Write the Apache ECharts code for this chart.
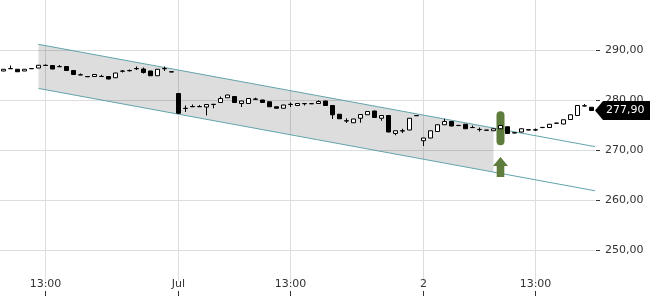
<!DOCTYPE html>
<html><head><meta charset="utf-8">
<script src="https://cdn.jsdelivr.net/npm/echarts@6/dist/echarts.min.js"></script>
<style>html,body{margin:0;padding:0;background:#fff}#c{width:650px;height:300px}</style>
</head><body><div id="c"></div>
<script>
// ---- data ----
const sessionTimes = ["09:00","09:15","09:30","09:45","10:00","10:15","10:30","10:45","11:00","11:15","11:30","11:45","12:00","12:15","12:30","12:45","13:00","13:15","13:30","13:45","14:00","14:15","14:30","14:45","15:00","15:15","15:30","15:45","16:00","16:15","16:30","16:45","17:00","17:15","17:30"];
const categories = [].concat(
  sessionTimes.slice(10).map(t => "30.06. " + t),
  sessionTimes.map(t => "01.07. " + t),
  sessionTimes.slice(0, 25).map(t => "02.07. " + t)
);
const openVals  = [285.8,286.25,286.15,285.8,286.3,286.4,286.95,286.9,286.65,286.7,285.9,285.0,284.7,284.7,284.7,284.7,284.45,285.75,285.9,286.3,286.2,285.8,284.85,286.3,285.65,
  281.3,278.3,278.65,278.7,278.6,279.15,279.5,280.45,280.7,279.3,279.3,280.2,280.0,279.65,278.65,278.35,279.15,278.9,279.3,279.27,279.3,279.8,278.9,277.15,275.85,275.45,276.35,277.05,277.8,276.35,276.9,273.3,273.85,274.0,276.9,
  271.85,272.4,273.7,275.05,275.7,274.92,275.15,274.5,274.12,273.98,273.85,274.25,274.65,273.45,273.6,274.05,274.05,274.52,274.5,275.38,275.2,276.1,276.9,278.85,278.55];
const closeVals = [286.15,286.3,285.65,286.15,286.25,286.95,286.9,286.2,286.7,285.9,285.1,285.05,284.65,285.1,284.72,284.2,285.4,285.8,285.85,286.25,285.5,284.85,286.15,286.25,285.6,
  277.35,278.35,278.7,278.65,279.1,279.1,280.3,281.0,279.5,279.8,280.3,280.15,279.5,278.65,278.35,279.0,279.1,279.3,279.25,279.25,279.7,278.9,277.05,276.25,275.8,276.2,277.1,277.7,276.5,276.9,273.6,273.85,273.8,276.35,276.85,
  272.4,273.85,275.05,275.7,274.8,274.88,274.25,274.48,274.08,273.95,274.25,274.9,273.3,273.4,274.25,274.0,274.0,274.48,275.15,275.35,276.05,277.05,278.9,278.8,277.9];
const lowVals   = [285.75,286.25,285.6,285.8,286.2,286.4,286.85,286.15,286.65,285.85,285.05,285.0,284.65,284.7,284.7,284.15,284.4,285.5,285.7,286.0,285.3,284.8,284.8,285.8,285.6,
  277.2,277.6,278.65,278.65,276.9,278.35,279.5,280.45,279.45,278.6,279.25,280.1,279.45,278.6,278.3,278.3,278.6,278.85,278.9,279.2,279.25,278.85,276.2,276.2,275.4,275.4,275.45,277.0,276.45,275.85,273.55,272.95,273.4,273.95,276.85,
  270.8,272.35,273.65,275.0,274.75,274.85,274.2,274.45,273.7,273.95,273.8,274.2,273.25,273.4,273.55,273.95,273.8,274.45,274.45,275.3,275.15,276.05,276.85,278.7,277.85];
const highVals  = [286.2,286.9,286.2,286.2,286.35,287.0,287.1,287.0,287.0,286.75,285.95,285.3,284.75,285.1,285.05,284.75,285.45,286.0,286.1,286.7,286.5,285.85,286.2,286.7,285.7,
  281.4,278.9,279.1,279.0,279.15,279.2,280.7,281.05,280.75,279.85,280.35,280.45,280.05,279.7,278.7,279.05,279.5,279.35,279.35,279.3,279.95,279.85,278.95,277.2,276.35,276.25,277.15,277.75,277.85,276.95,276.95,273.9,274.25,276.4,276.9,
  272.45,273.9,275.1,276.25,275.75,274.95,275.2,274.9,274.5,274.0,274.3,274.95,274.7,273.5,274.3,274.1,274.3,274.55,275.2,275.45,276.1,277.1,278.95,279.2,278.6];
// trend channel (x in candle index units)
const channelX     = [5, 84.5];
const channelUpper = [291.13, 270.67];
const channelLower = [282.31, 261.85];
const fillX        = [5, 70];
const fillUpper    = [291.13, 274.41];
const fillLower    = [282.31, 265.59];
// signal markers
const signalCat        = ["02.07. 11:45"];
const signalBarValue   = [274.37];
const signalArrowValue = [266.62];
// axis ticks
const tickCats = ["30.06. 13:00","01.07. 09:00","01.07. 13:00","02.07. 09:00","02.07. 13:00"];
const tickText = ["13:00","Jul","13:00","2","13:00"];
const yTicks = [250, 260, 270, 280, 290];

// ---- chart ----
const FONT = 'DejaVu Sans';
const fmt = v => v.toFixed(2).replace('.', ',');
const chart = echarts.init(document.getElementById('c'), null, {renderer: 'canvas'});
const candleData = categories.map((c, i) => [openVals[i], closeVals[i], lowVals[i], highVals[i]]);
const tickSet = new Set(tickCats);
const GREEN = '#5e7c3b';
const GRID = '#dddddd';
const option = {
  animation: false,
  grid: {left: 0, right: 55, top: -2, height: 302},
  xAxis: [
    {type: 'category', data: categories, boundaryGap: true, offset: -4, z: 10,
     axisLine: {show: false, onZero: false},
     axisTick: {show: true, inside: true, length: 5, alignWithLabel: true,
       interval: (i, v) => tickSet.has(v), lineStyle: {color: '#333'}},
     axisLabel: {inside: true, margin: 6, interval: (i, v) => tickSet.has(v),
       formatter: v => tickText[tickCats.indexOf(v)], color: '#333', fontFamily: FONT, fontSize: 11},
     splitLine: {show: false}},
    {type: 'value', min: -0.5, max: categories.length - 0.5, show: false,
     axisLine: {onZero: false}}
  ],
  yAxis: {type: 'value', position: 'right', min: 240, max: 300, interval: 10, offset: 1,
    axisLine: {show: false, onZero: false},
    axisTick: {show: true, length: 4, lineStyle: {color: '#333'}},
    axisLabel: {margin: 9, showMinLabel: false, showMaxLabel: false, formatter: fmt,
      color: '#333', fontFamily: FONT, fontSize: 11},
    splitLine: {show: false}},
  series: [
    {type: 'line', xAxisIndex: 0, data: [], z: 0, silent: true,
     markLine: {symbol: 'none', silent: true, z: 0, label: {show: false}, animation: false,
       lineStyle: {color: GRID, type: 'solid', width: 1},
       emphasis: {disabled: true},
       data: tickCats.map(c => [{coord: [c, 300]}, {coord: [c, 243.8]}])
         .concat(yTicks.map(v => ({yAxis: v})))}},
    {type: 'custom', xAxisIndex: 1, z: 1, silent: true,
     data: [[fillX[0], fillUpper[0]]],
     renderItem: (params, api) => ({
       type: 'polygon',
       shape: {points: [api.coord([fillX[0], fillUpper[0]]), api.coord([fillX[1], fillUpper[1]]),
                        api.coord([fillX[1], fillLower[1]]), api.coord([fillX[0], fillLower[0]])]},
       style: {fill: 'rgba(0,0,0,0.135)'}
     })},
    {type: 'line', xAxisIndex: 1, z: 2, silent: true, symbol: 'none',
     data: channelX.map((x, i) => [x, channelUpper[i]]), lineStyle: {color: '#62a3ab', width: 1}},
    {type: 'line', xAxisIndex: 1, z: 2, silent: true, symbol: 'none',
     data: channelX.map((x, i) => [x, channelLower[i]]), lineStyle: {color: '#62a3ab', width: 1}},
    {type: 'scatter', xAxisIndex: 0, z: 2, silent: true,
     symbol: 'path://M4,0 A4,4 0 0 1 8,4 L8,30 A4,4 0 0 1 4,34 A4,4 0 0 1 0,30 L0,4 A4,4 0 0 1 4,0 Z',
     symbolSize: [8, 34], itemStyle: {color: GREEN, opacity: 1},
     data: signalCat.map((c, i) => [c, signalBarValue[i]])},
    {type: 'scatter', xAxisIndex: 0, z: 2, silent: true,
     symbol: 'path://M7.5,0 L15,9 L11.3,9 L11.3,20 L3.7,20 L3.7,9 L0,9 Z',
     symbolSize: [15, 20], itemStyle: {color: GREEN, opacity: 1},
     data: signalCat.map((c, i) => [c, signalArrowValue[i]])},
    {type: 'candlestick', xAxisIndex: 0, z: 3, barWidth: 5, silent: true,
     itemStyle: {color: '#ffffff', color0: '#000000', borderColor: '#000000', borderColor0: '#000000', borderWidth: 1},
     data: candleData}
  ]
};
chart.setOption(option);

// last price tag
const lastClose = closeVals[closeVals.length - 1];
const yPix = chart.convertToPixel({yAxisIndex: 0}, lastClose);
const xPix = chart.convertToPixel({xAxisIndex: 1}, categories.length - 0.5);
chart.setOption({graphic: [
  {type: 'polygon', z: 100, silent: true,
   shape: {points: [[xPix, yPix], [xPix + 8, yPix - 9.5], [650, yPix - 9.5], [650, yPix + 9.5], [xPix + 8, yPix + 9.5]]},
   style: {fill: '#000'}},
  {type: 'text', z: 101, silent: true, x: xPix + 11, y: yPix,
   style: {text: fmt(lastClose), fill: '#fff', font: '11px "DejaVu Sans"', verticalAlign: 'middle'}}
]});
</script>
</body></html>
